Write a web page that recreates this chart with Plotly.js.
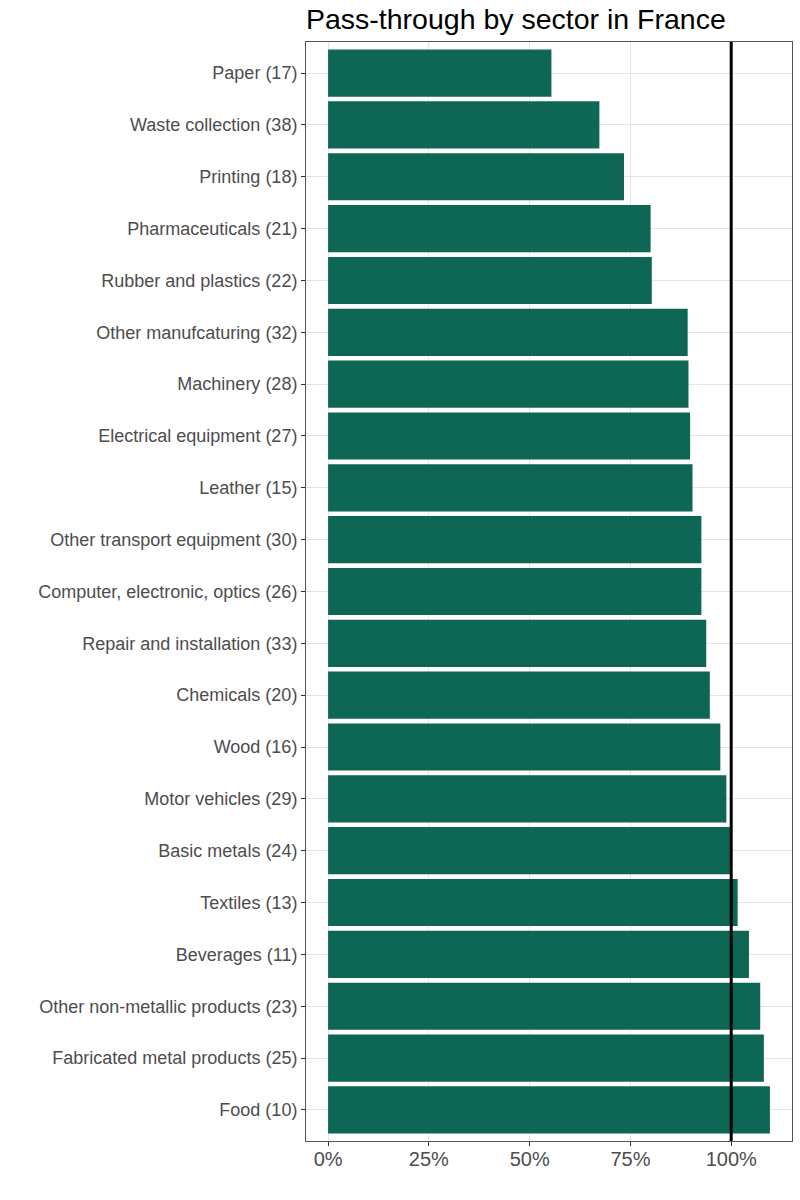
<!DOCTYPE html>
<html>
<head>
<meta charset="utf-8">
<script src="https://cdn.plot.ly/plotly-3.0.1.min.js"></script>
<style>html,body{margin:0;padding:0;background:#fff;}#chart{width:800px;height:1200px;}</style>
</head>
<body>
<div id="chart"></div>
<script>
const sectors = [
  "Paper (17)", "Waste collection (38)", "Printing (18)", "Pharmaceuticals (21)",
  "Rubber and plastics (22)", "Other manufcaturing (32)", "Machinery (28)",
  "Electrical equipment (27)", "Leather (15)", "Other transport equipment (30)",
  "Computer, electronic, optics (26)", "Repair and installation (33)",
  "Chemicals (20)", "Wood (16)", "Motor vehicles (29)", "Basic metals (24)",
  "Textiles (13)", "Beverages (11)", "Other non-metallic products (23)",
  "Fabricated metal products (25)", "Food (10)"
];
const passThrough = [
  55.4, 67.3, 73.4, 80.0, 80.3, 89.2, 89.4, 89.8, 90.4, 92.6, 92.6,
  93.8, 94.7, 97.3, 98.8, 99.9, 101.6, 104.4, 107.2, 108.1, 109.6
];
const xTickVals = [0, 25, 50, 75, 100];
const xTickText = ["0%", "25%", "50%", "75%", "100%"];
const referenceLine = 100;

const trace = {
  type: "bar",
  orientation: "h",
  x: passThrough,
  y: sectors,
  marker: {color: "#0E6655"},
  hoverinfo: "x+y"
};

const layout = {
  width: 800,
  height: 1200,
  paper_bgcolor: "#ffffff",
  plot_bgcolor: "#ffffff",
  font: {family: "Liberation Sans, Arial, sans-serif", color: "#4d4d4d"},
  margin: {l: 306, r: 8, t: 42, b: 59},
  bargap: 0.09,
  showlegend: false,
  title: {
    text: "Pass-through by sector in France",
    font: {size: 28.5, color: "#000000", family: "Liberation Sans, Arial, sans-serif"},
    xref: "container", yref: "container",
    x: 306 / 800, xanchor: "left",
    y: 1 - 19 / 1200, yanchor: "middle"
  },
  xaxis: {
    range: [-5.48, 115.08],
    tickvals: xTickVals,
    ticktext: xTickText,
    tickfont: {size: 20, color: "#4d4d4d"},
    ticks: "outside", ticklen: 4, tickcolor: "#333333", tickwidth: 1,
    ticklabelstandoff: -4,
    showgrid: true, gridcolor: "#e5e5e5", gridwidth: 1,
    zeroline: false,
    showline: true, mirror: true, linecolor: "#555555", linewidth: 1
  },
  yaxis: {
    type: "category",
    categoryorder: "array",
    categoryarray: sectors,
    range: [sectors.length - 0.4, -0.6],
    tickfont: {size: 18, color: "#4d4d4d"},
    ticks: "outside", ticklen: 4, tickcolor: "#333333", tickwidth: 1,
    showgrid: true, gridcolor: "#e5e5e5", gridwidth: 1,
    zeroline: false,
    showline: true, mirror: true, linecolor: "#555555", linewidth: 1
  },
  shapes: [{
    type: "line", xref: "x", yref: "paper",
    x0: referenceLine, x1: referenceLine, y0: 0, y1: 1,
    line: {color: "#000000", width: 3}
  }]
};

Plotly.newPlot("chart", [trace], layout, {displayModeBar: false, staticPlot: true});
</script>
</body>
</html>
